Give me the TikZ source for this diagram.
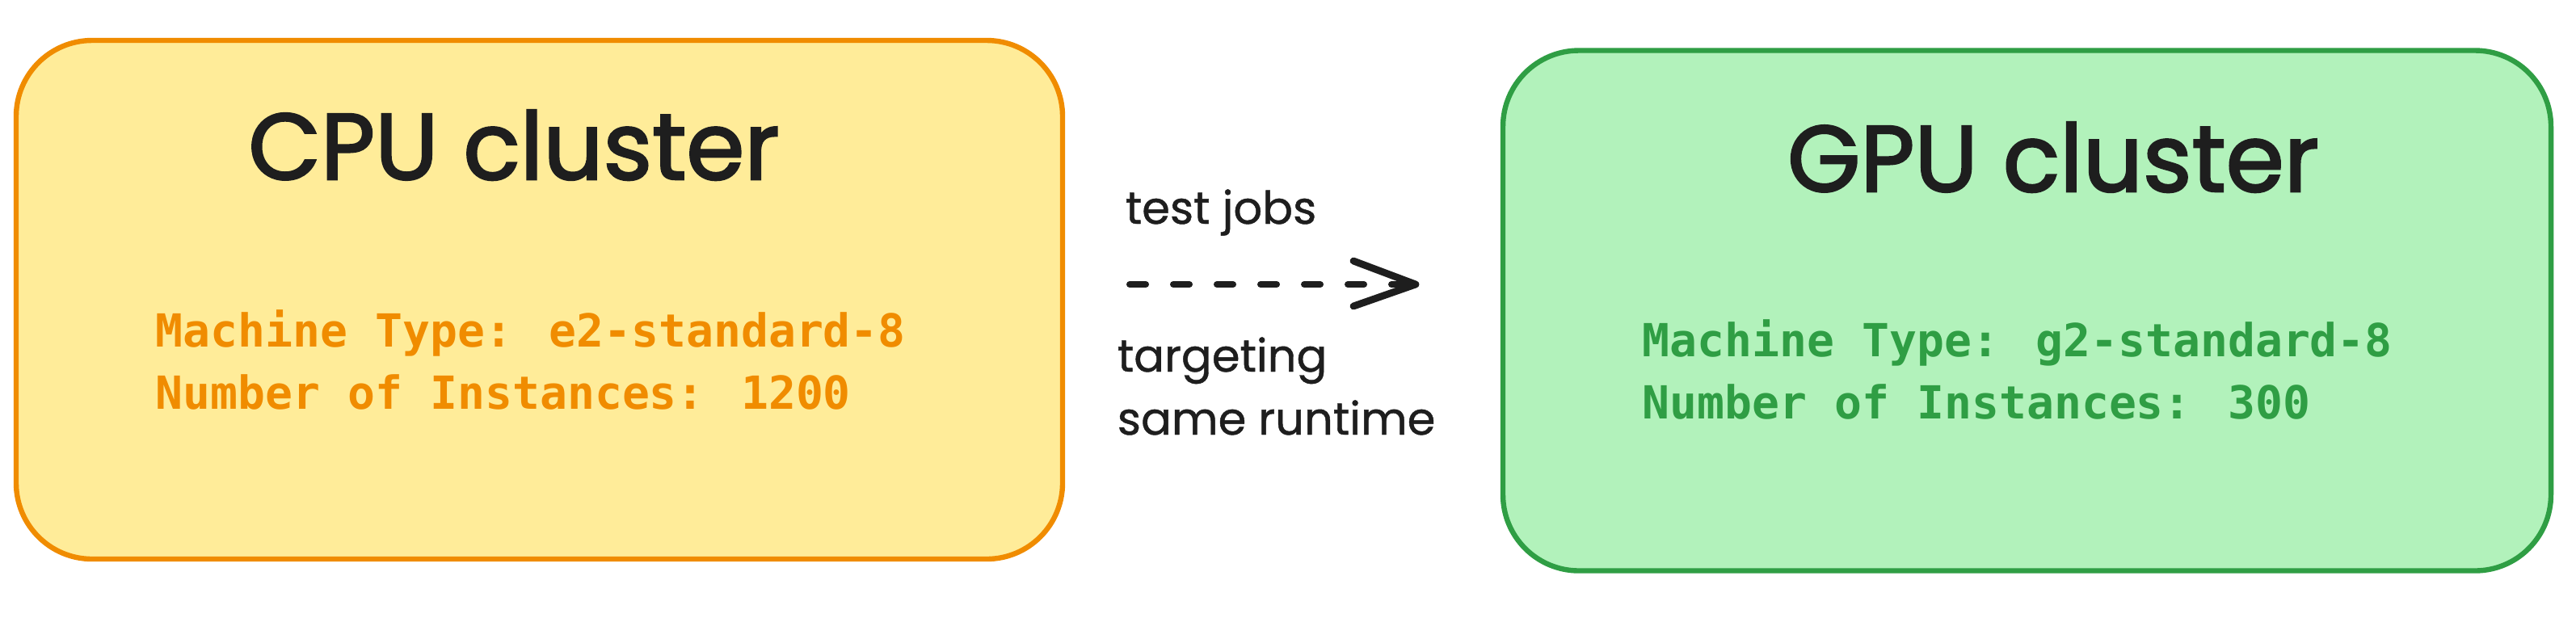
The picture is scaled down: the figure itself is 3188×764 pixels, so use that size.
\documentclass[tikz,border=0pt]{standalone}
\usepackage{fontspec}
\setmainfont{Poppins}
\newfontfamily\titlef[FakeBold=2.2]{Poppins}
\newfontfamily\labelf[FakeBold=0.8]{Poppins}
\newfontfamily\monof{DejaVu Sans Mono}
\definecolor{orstroke}{HTML}{F08C00}
\definecolor{orfill}{HTML}{FFEC99}
\definecolor{grstroke}{HTML}{2F9E44}
\definecolor{grfill}{HTML}{B2F2BB}
\definecolor{ink}{HTML}{1E1E1E}
\newcommand{\twolines}[2]{\vtop{\baselineskip=19.4pt\hbox{#1}\hbox{#2}}}
\begin{document}
\begin{tikzpicture}[x=0.25pt,y=-0.25pt,
  clusterbox/.style={rectangle, rounded corners=23.5pt, line width=1.6pt, inner sep=0pt},
  cpubox/.style={clusterbox, draw=orstroke, fill=orfill},
  gpubox/.style={clusterbox, draw=grstroke, fill=grfill},
  titletext/.style={font=\titlef\fontsize{29}{34}\selectfont, text=ink, inner sep=0pt, anchor=base},
  bodytext/.style={font=\monof\bfseries\fontsize{14.1}{19.4}\selectfont, inner sep=0pt, anchor=base west},
  labeltext/.style={font=\labelf\fontsize{14}{19.5}\selectfont, text=ink, inner sep=0pt, anchor=base west},
  flowarrow/.style={draw=ink, line width=2pt, line cap=round, dash pattern=on 5pt off 8.5pt}
]
\useasboundingbox[fill=white] (0,0) rectangle (3188,764);
\node[cpubox, minimum width=323.75pt, minimum height=160.5pt] (cpu) at (667.5,371) {};
\node[gpubox, minimum width=324.25pt, minimum height=161pt] (gpu) at (2508.5,384.5) {};
\node[titletext] (cputitle) at (636,222) {CPU cluster};
\node[titletext] (gputitle) at (2541,237) {GPU cluster};
\node[bodytext, text=orstroke] (cpubody) at (192,429) {\twolines{Machine Type: e2-standard-8}{Number of Instances: 1200}};
\node[bodytext, text=grstroke] (gpubody) at (2032,441) {\twolines{Machine Type: g2-standard-8}{Number of Instances: 300}};
\node[labeltext] (jobs) at (1392,277) {test jobs};
\node[labeltext] (target) at (1382,460) {\vtop{\baselineskip=19.5pt\hbox{targeting}\hbox{same runtime}}};
\coordinate (arrstart) at (1398,352);
\coordinate (arrtip) at (1752,352);
\draw[flowarrow] (arrstart) -- ([xshift=-2pt]arrtip);
\draw[draw=ink, line width=2.2pt, line cap=round, line join=round] (1675,323) -- (arrtip) -- (1675,379);
\end{tikzpicture}
\end{document}
